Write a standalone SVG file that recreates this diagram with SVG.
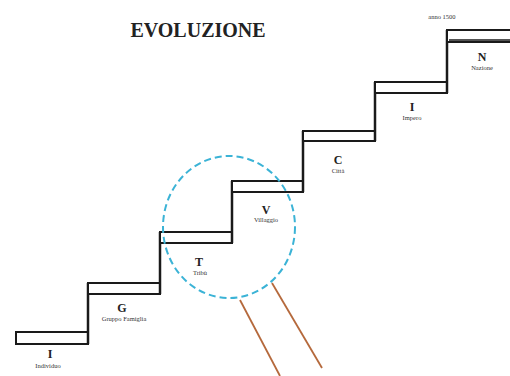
<svg xmlns="http://www.w3.org/2000/svg" width="510" height="376" viewBox="0 0 510 376">
<style>
.tread{fill:#fff;stroke:#1a1a1a;stroke-width:2}
.riser{stroke:#1a1a1a;stroke-width:2.5;fill:none}
.big{font-family:"Liberation Serif",serif;font-size:12px;font-weight:bold;fill:#222;text-anchor:middle}
.small{font-family:"Liberation Serif",serif;font-size:6.5px;fill:#333;text-anchor:middle}
.title{font-family:"Liberation Serif",serif;font-size:20px;font-weight:bold;fill:#222;text-anchor:middle}
.circle{fill:none;stroke:#3bb3d6;stroke-width:2;stroke-dasharray:7 4}
.pointer{stroke:#b5693c;stroke-width:1.8}
</style>
<rect width="510" height="376" fill="#fff"/>
<text class="title" x="198" y="37">EVOLUZIONE</text>
<g id="step-individuo">
<rect class="tread" x="16" y="332" width="72" height="12"/>
<text class="big" x="50" y="358">I</text>
<text class="small" x="48" y="368">Individuo</text>
</g>
<g id="step-gruppo">
<line class="riser" x1="88" y1="283" x2="88" y2="344"/>
<rect class="tread" x="88" y="283" width="72" height="11"/>
<text class="big" x="122" y="312">G</text>
<text class="small" x="124" y="321">Gruppo Famiglia</text>
</g>
<g id="step-tribu">
<line class="riser" x1="160" y1="232" x2="160" y2="294"/>
<rect class="tread" x="160" y="232" width="72" height="11"/>
<text class="big" x="199" y="266">T</text>
<text class="small" x="200" y="275">Tribù</text>
</g>
<g id="step-villaggio">
<line class="riser" x1="232" y1="181" x2="232" y2="243"/>
<rect class="tread" x="232" y="181" width="71" height="11"/>
<text class="big" x="266" y="214">V</text>
<text class="small" x="266" y="222">Villaggio</text>
</g>
<g id="step-citta">
<line class="riser" x1="303" y1="131" x2="303" y2="192"/>
<rect class="tread" x="303" y="131" width="72" height="10"/>
<text class="big" x="338" y="164">C</text>
<text class="small" x="338" y="173">Città</text>
</g>
<g id="step-impero">
<line class="riser" x1="375" y1="82" x2="375" y2="141"/>
<rect class="tread" x="375" y="82" width="72" height="11"/>
<text class="big" x="412" y="111">I</text>
<text class="small" x="412" y="120">Impero</text>
</g>
<g id="step-nazione">
<line class="riser" x1="447" y1="30" x2="447" y2="93"/>
<rect class="tread" x="447" y="30" width="66" height="12"/>
<line x1="449" y1="40" x2="512" y2="40" stroke="#1a1a1a" stroke-width="1.5"/>
<text class="big" x="482" y="61">N</text>
<text class="small" x="482" y="70">Nazione</text>
<text class="small" x="442" y="19">anno 1500</text>
</g>
<g id="highlight">
<ellipse class="circle" cx="229" cy="227" rx="66" ry="71"/>
</g>
<g id="connectors">
<line class="pointer" x1="240" y1="300" x2="280" y2="376"/>
<line class="pointer" x1="272" y1="283" x2="322" y2="368"/>
</g>
</svg>
